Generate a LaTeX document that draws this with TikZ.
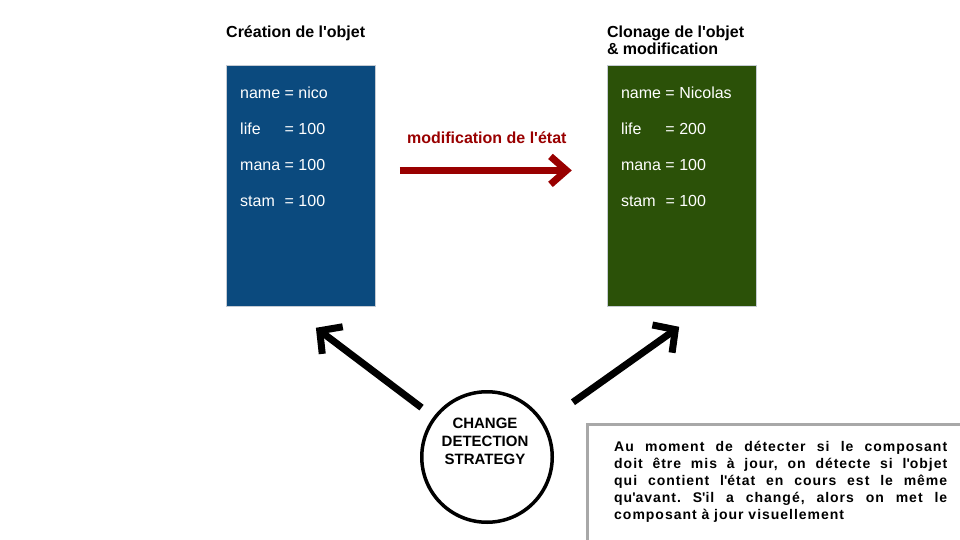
\documentclass[tikz,border=0pt]{standalone}
\usepackage{fontspec}
\setmainfont{Liberation Sans}
\newfontfamily\notefont{Liberation Sans}[LetterSpace=7]
\usetikzlibrary{positioning,calc,arrows.meta}

\definecolor{objblue}{HTML}{0B4A7E}
\definecolor{objgreen}{HTML}{2B5108}
\definecolor{modred}{HTML}{990000}
\definecolor{boxline}{HTML}{C5CBD3}
\definecolor{notegray}{HTML}{A8A8A8}

\newcommand{\q}{\textquotesingle}

\begin{document}
\begin{tikzpicture}[x=1pt, y=-1pt,
    % Boxes holding the object state
    objbox/.style={draw=boxline, line width=0.8pt, anchor=north west,
      minimum width=149pt, minimum height=241pt, inner sep=0pt},
    row/.style={anchor=west, text=white, inner sep=0pt,
      font=\fontsize{16}{19}\selectfont},
    ttl/.style={anchor=north west, align=left, inner sep=0pt,
      font=\bfseries\fontsize{16}{17.5}\selectfont},
    % Strategy circle and its label
    circ/.style={circle, draw, line width=3.5pt, minimum size=130.5pt},
    circtxt/.style={align=center, inner sep=0pt,
      font=\bfseries\fontsize{15}{18}\selectfont},
    % Arrows
    bigarr/.style={line width=7pt, -{Straight Barb[length=16pt, width=34pt]}},
    redarr/.style={bigarr, draw=modred, -{Straight Barb[length=16pt, width=28pt]}},
    lbl/.style={text=modred, inner sep=0pt, font=\bfseries\fontsize{16}{19}\selectfont},
    % Note at the bottom right
    notebox/.style={draw=notegray, line width=3pt, anchor=north west,
      minimum width=380pt, minimum height=125pt},
    notetxt/.style={anchor=north west, text width=333pt, align=justify, inner sep=0pt,
      font=\notefont\bfseries\fontsize{14}{17}\selectfont\frenchspacing}]

\useasboundingbox (0,0) rectangle (960,540);

% object boxes
\node[objbox, fill=objblue] (obj1) at (226,65) {};
\node[objbox, fill=objgreen, right=231pt of obj1] (obj2) {};

\node[ttl] (ttl1) at ([yshift=39.4pt]obj1.north west) {Création de l\q objet};
\node[ttl] (ttl2) at ([yshift=39.4pt]obj2.north west) {Clonage de l\q objet\\\& modification};

\foreach \k/\v [count=\i from 0] in {name/nico, life/100, mana/100, stam/100}
  \node[row] (obj1r\i) at ($(obj1.north west)+(14,{28+36*\i})$) {\makebox[44.5pt][l]{\k}= \v};
\foreach \k/\v [count=\i from 0] in {name/Nicolas, life/200, mana/100, stam/100}
  \node[row] (obj2r\i) at ($(obj2.north west)+(14,{28+36*\i})$) {\makebox[44.5pt][l]{\k}= \v};

% state change
\draw[redarr, shorten <=24pt, shorten >=35pt] ([yshift=15.5pt]obj1.east)
  -- node[lbl, midway, xshift=-4.5pt, yshift=33pt] (modlbl) {modification de l\q état}
  ([yshift=15.5pt]obj2.west);

% strategy
\node[circ] (strat) at (487,457) {};
\node[circtxt] (stratlbl) at ([xshift=-2pt, yshift=16pt]strat.center) {CHANGE\\DETECTION\\STRATEGY};

\draw[bigarr, shorten <=15pt] (strat.143) -- ([xshift=15pt, yshift=-21pt]obj1.south);
\draw[bigarr, shorten <=35pt] (strat.31) -- ([xshift=-2.5pt, yshift=-20pt]obj2.south);

% note
\node[notebox] (note) at (586,423) {};
\node[notetxt] (notetext) at ([xshift=28pt, yshift=-18pt]note.north west)
  {Au moment de détecter si le composant\linebreak
   doit être mis à jour, on détecte si l\q objet\linebreak
   qui contient l\q état en cours est le même\linebreak
   qu\q avant. S\q il a changé, alors on met le\linebreak
   composant à jour visuellement};
\end{tikzpicture}
\end{document}
